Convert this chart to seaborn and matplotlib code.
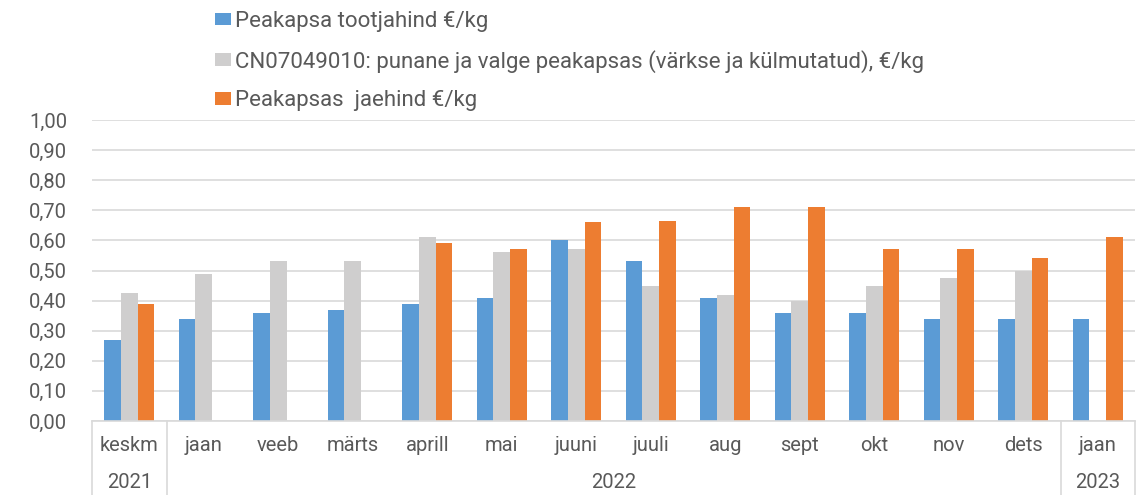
import numpy as np
import pandas as pd
import matplotlib
matplotlib.use("Agg")
import matplotlib.pyplot as plt
import seaborn as sns

months = ["keskm", "jaan", "veeb", "märts", "aprill", "mai", "juuni",
          "juuli", "aug", "sept", "okt", "nov", "dets", "jaan "]
years = ["2021", "2022", "2023"]
year_spans = [(0, 0), (1, 12), (13, 13)]

series_names = [
    "Peakapsa tootjahind €/kg",
    "CN07049010: punane ja valge peakapsas (värkse ja külmutatud), €/kg",
    "Peakapsas  jaehind €/kg",
]
producer = [0.27, 0.34, 0.36, 0.37, 0.39, 0.41, 0.60, 0.53, 0.41, 0.36, 0.36, 0.34, 0.34, 0.34]
cn_code = [0.425, 0.49, 0.533, 0.53, 0.61, 0.56, 0.57, 0.45, 0.42, 0.40, 0.45, 0.475, 0.50, np.nan]
retail = [0.39, np.nan, np.nan, np.nan, 0.59, 0.57, 0.66, 0.665, 0.71, 0.71, 0.57, 0.57, 0.54, 0.61]

colors = ["#5B9BD5", "#CFCECE", "#ED7D31"]
text_color = "#595959"
grid_color = "#D9D9D9"

rows = []
for name, vals in zip(series_names, [producer, cn_code, retail]):
    for m, v in zip(months, vals):
        if not np.isnan(v):
            rows.append({"month": m, "series": name, "value": v})
df = pd.DataFrame(rows)

sns.set_theme(style="white")
plt.rcParams["font.family"] = ["Roboto", "DejaVu Sans"]

fig = plt.figure(figsize=(11.44, 4.95), dpi=100)
ax = fig.add_axes([92 / 1144, 1 - 421 / 495, (1135 - 92) / 1144, (421 - 120) / 495])

sns.barplot(data=df, x="month", y="value", hue="series", order=months,
            hue_order=series_names, palette=colors, width=0.67,
            linewidth=0, saturation=1, ax=ax, errorbar=None)

ax.set_ylim(0, 1.0)
ax.set_xlim(-0.5, len(months) - 0.5)
yt = np.round(np.arange(0, 1.01, 0.1), 2)
ax.set_yticks(yt)
ax.set_yticklabels([f"{v:.2f}".replace(".", ",") for v in yt], fontsize=14.5, color=text_color)
ax.tick_params(axis="y", length=0, pad=18)
ax.grid(axis="y", color=grid_color, linewidth=1.2)
ax.set_axisbelow(True)
for s in ["left", "right", "top"]:
    ax.spines[s].set_visible(False)
ax.spines["bottom"].set_color(grid_color)
ax.spines["bottom"].set_linewidth(1.2)
ax.set_xlabel("")
ax.set_ylabel("")
ax.set_xticks([])

# two-level category axis
trans = matplotlib.transforms.blended_transform_factory(ax.transData, ax.transAxes)
for i, m in enumerate(months):
    ax.text(i, -0.083, m.strip(), transform=trans, ha="center", va="center",
            fontsize=14.5, color=text_color, clip_on=False)
for y, (a, b) in zip(years, year_spans):
    ax.text((a + b) / 2, -0.205, y, transform=trans, ha="center", va="center",
            fontsize=14.5, color=text_color, clip_on=False)
for xs in [-0.5, 0.5, 12.5, 13.5]:
    ax.plot([xs, xs], [0, -0.26], transform=trans, color=grid_color,
            linewidth=1.2, clip_on=False)

handles, labels = ax.get_legend_handles_labels()
ax.legend(handles, labels, loc="upper left", bbox_to_anchor=(215 / 1144, 1 - 11 / 495),
          bbox_transform=fig.transFigure, frameon=False, ncol=1,
          handlelength=0.72, handleheight=0.5, handletextpad=0.2,
          labelspacing=0.79, borderpad=0, borderaxespad=0,
          prop={"family": ["Roboto", "DejaVu Sans"], "size": 16},
          labelcolor=text_color)

fig.savefig("out.png", dpi=100)
